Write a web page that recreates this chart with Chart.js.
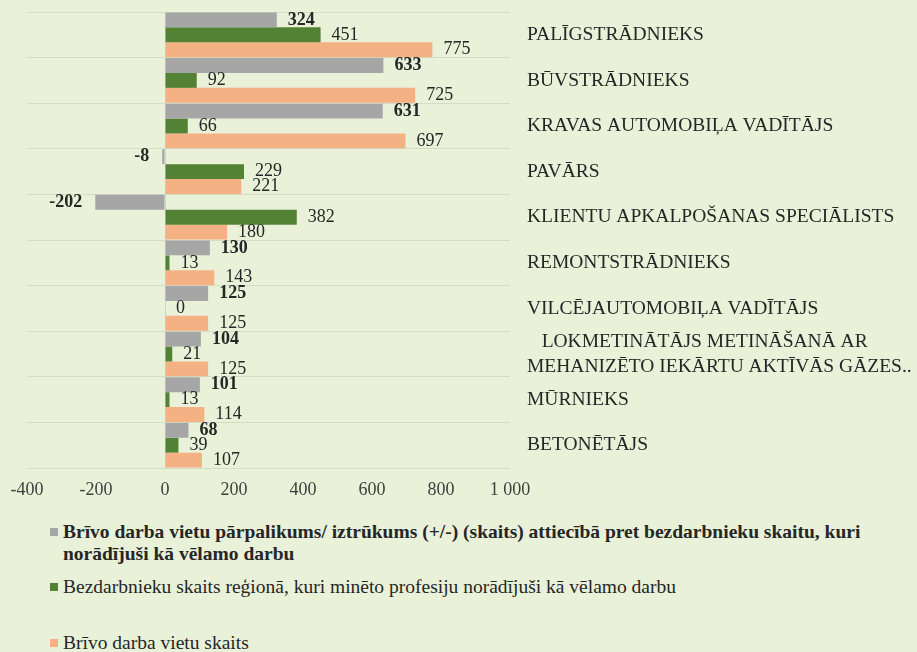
<!DOCTYPE html>
<html>
<head>
<meta charset="utf-8">
<script src="https://cdn.jsdelivr.net/npm/chart.js@4"></script>
<style>
  body { margin: 0; background: #e9f1d9; }
  #wrap { position: relative; width: 917px; height: 652px; background: #e9f1d9; overflow: hidden; }
  #chart-box { position: absolute; left: 0; top: 0; width: 917px; height: 500px; }
  .leg { position: absolute; left: 50px; font-family: "Liberation Serif", serif; font-size: 19.5px; color: #262626; line-height: 22px; white-space: nowrap; }
  .leg i { position: absolute; left: 0; top: 7px; width: 8px; height: 8px; }
  .leg span { display: block; margin-left: 13px; }
</style>
</head>
<body>
<div id="wrap">
  <div id="chart-box"><canvas id="chart"></canvas></div>
  <div class="leg" style="top:521px; font-weight:bold;"><i style="background:#a6a6a6"></i><span>Brīvo darba vietu pārpalikums/ iztrūkums (+/-) (skaits) attiecībā pret bezdarbnieku skaitu, kuri<br>norādījuši kā vēlamo darbu</span></div>
  <div class="leg" style="top:576px;"><i style="background:#548235"></i><span>Bezdarbnieku skaits reģionā, kuri minēto profesiju norādījuši kā vēlamo darbu</span></div>
  <div class="leg" style="top:632px;"><i style="background:#f4b183"></i><span>Brīvo darba vietu skaits</span></div>
</div>
<script>
const categories = [
    "PALĪGSTRĀDNIEKS",
    "BŪVSTRĀDNIEKS",
    "KRAVAS AUTOMOBIĻA VADĪTĀJS",
    "PAVĀRS",
    "KLIENTU APKALPOŠANAS SPECIĀLISTS",
    "REMONTSTRĀDNIEKS",
    "VILCĒJAUTOMOBIĻA VADĪTĀJS",
    ["   LOKMETINĀTĀJS METINĀŠANĀ AR", "MEHANIZĒTO IEKĀRTU AKTĪVĀS GĀZES.."],
    "MŪRNIEKS",
    "BETONĒTĀJS"
];
const surplus = [324, 633, 631, -8, -202, 130, 125, 104, 101, 68];
const unemployed = [451, 92, 66, 229, 382, 13, 0, 21, 13, 39];
const vacancies = [775, 725, 697, 221, 180, 143, 125, 125, 114, 107];
const seriesNames = [
    "Brīvo darba vietu pārpalikums/ iztrūkums (+/-) (skaits) attiecībā pret bezdarbnieku skaitu, kuri norādījuši kā vēlamo darbu",
    "Bezdarbnieku skaits reģionā, kuri minēto profesiju norādījuši kā vēlamo darbu",
    "Brīvo darba vietu skaits"
];
const xTicks = [-400, -200, 0, 200, 400, 600, 800, 1000];

const serif = "'Liberation Serif', 'Times New Roman', serif";

// vertības pie stabiņu galiem
const valueLabels = {
    id: "valueLabels",
    afterDatasetsDraw(chart) {
        const ctx = chart.ctx;
        chart.data.datasets.forEach((ds, di) => {
            const meta = chart.getDatasetMeta(di);
            meta.data.forEach((bar, i) => {
                const v = ds.data[i];
                ctx.save();
                ctx.font = (di === 0 ? "bold " : "") + "18px " + serif;
                ctx.fillStyle = "#262626";
                ctx.textBaseline = "middle";
                if (v < 0) {
                    ctx.textAlign = "right";
                    ctx.fillText(String(v), bar.x - 13, bar.y);
                } else {
                    ctx.textAlign = "left";
                    ctx.fillText(String(v), bar.x + 11, bar.y);
                }
                ctx.restore();
            });
        });
    }
};

const ctx = document.getElementById("chart").getContext("2d");
new Chart(ctx, {
    type: "bar",
    data: {
        labels: categories,
        datasets: [
            { label: seriesNames[0], data: surplus, backgroundColor: "#a6a6a6" },
            { label: seriesNames[1], data: unemployed, backgroundColor: "#548235" },
            { label: seriesNames[2], data: vacancies, backgroundColor: "#f4b183" }
        ]
    },
    options: {
        indexAxis: "y",
        responsive: true,
        maintainAspectRatio: false,
        animation: false,
        datasets: { bar: { barPercentage: 1, categoryPercentage: 0.98 } },
        layout: { padding: { top: 12, left: 27, right: 0, bottom: 0 } },
        plugins: { legend: { display: false }, tooltip: { enabled: false } },
        scales: {
            x: {
                min: -400,
                max: 1000,
                afterBuildTicks: scale => { scale.ticks = xTicks.map(v => ({ value: v })); },
                afterFit: scale => { scale.height = 32; scale.paddingLeft = 0; scale.paddingRight = 0; },
                grid: {
                    drawTicks: false,
                    color: c => c.tick && c.tick.value === 0 ? "#cfd6c4" : "rgba(0,0,0,0)"
                },
                border: { display: false },
                ticks: {
                    autoSkip: false,
                    maxRotation: 0,
                    padding: 11,
                    color: "#404040",
                    font: { family: serif, size: 18 },
                    callback: v => v >= 1000 ? "1 000" : String(v)
                }
            },
            y: {
                position: "right",
                afterFit: scale => { scale.width = 407; scale.paddingTop = 0; scale.paddingBottom = 0; },
                grid: { drawTicks: false, color: "#d3dcc5", offset: true },
                border: { display: false },
                ticks: {
                    autoSkip: false,
                    crossAlign: "near",
                    padding: 17,
                    color: "#262626",
                    font: { family: serif, size: 19.5, lineHeight: 1.28 }
                }
            }
        }
    },
    plugins: [valueLabels]
});
</script>
</body>
</html>
